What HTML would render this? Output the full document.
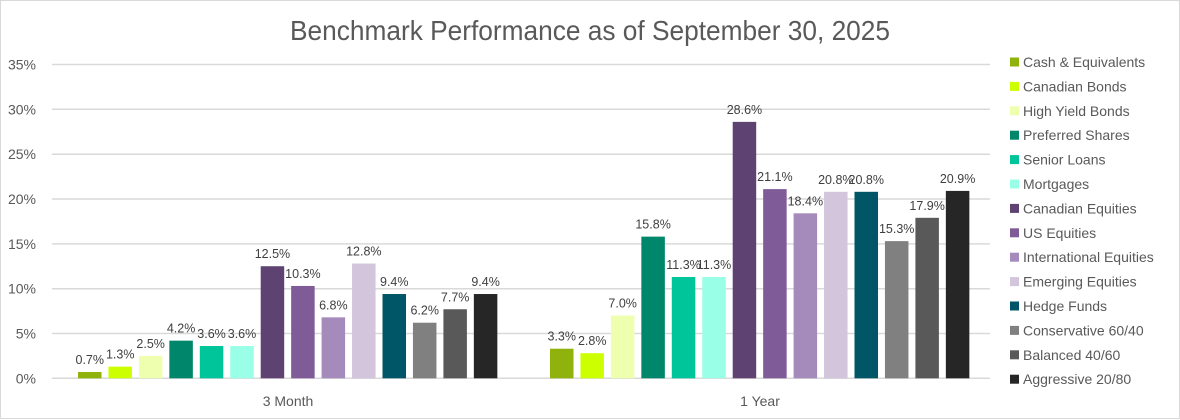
<!DOCTYPE html>
<html><head><meta charset="utf-8"><style>
html,body{margin:0;padding:0;background:#fff}
svg{display:block;font-family:"Liberation Sans",sans-serif}
</style></head><body>
<svg width="1180" height="420" viewBox="0 0 1180 420" xmlns="http://www.w3.org/2000/svg">
<rect x="0.5" y="0.5" width="1179" height="418" fill="#fff" stroke="#d9d9d9"/>
<text x="590" y="40" font-size="28" fill="#595959" text-anchor="middle" textLength="600" lengthAdjust="spacingAndGlyphs">Benchmark Performance as of September 30, 2025</text>
<g stroke="#d9d9d9" stroke-width="1.5">
<line x1="52" x2="990" y1="64.5" y2="64.5"/>
<line x1="52" x2="990" y1="109.3" y2="109.3"/>
<line x1="52" x2="990" y1="154.2" y2="154.2"/>
<line x1="52" x2="990" y1="199" y2="199"/>
<line x1="52" x2="990" y1="243.9" y2="243.9"/>
<line x1="52" x2="990" y1="288.7" y2="288.7"/>
<line x1="52" x2="990" y1="333.5" y2="333.5"/>
<line x1="52" x2="990" y1="378.3" y2="378.3"/>
</g>
<g font-size="14" fill="#595959" text-anchor="end">
<text x="36" y="69.5">35%</text><text x="36" y="114.3">30%</text><text x="36" y="159.2">25%</text><text x="36" y="204">20%</text><text x="36" y="248.9">15%</text><text x="36" y="293.7">10%</text><text x="36" y="338.5">5%</text><text x="36" y="383.3">0%</text>
</g>
<g font-size="14" fill="#595959" text-anchor="middle">
<text x="288" y="406">3 Month</text><text x="760" y="406">1 Year</text>
</g>
<g id="bars"></g>
<g id="legend" font-size="14" fill="#595959"></g>
<script>
var colors=["#8fb20c","#ccff00","#eeffb0","#00866a","#00c49a","#99ffe6","#5e4272","#7f5c98","#a58bbb","#d2c5dc","#005566","#808080","#595959","#262626"];
var names=["Cash & Equivalents","Canadian Bonds","High Yield Bonds","Preferred Shares","Senior Loans","Mortgages","Canadian Equities","US Equities","International Equities","Emerging Equities","Hedge Funds","Conservative 60/40","Balanced 40/60","Aggressive 20/80"];
var d1=[0.7,1.3,2.5,4.2,3.6,3.6,12.5,10.3,6.8,12.8,9.4,6.2,7.7,9.4];
var d2=[3.3,2.8,7.0,15.8,11.3,11.3,28.6,21.1,18.4,20.8,20.8,15.3,17.9,20.9];
var ns="http://www.w3.org/2000/svg",g=document.getElementById("bars"),lg=document.getElementById("legend");
function y(v){return 378.3-v*8.966;}
function add(p,tag,a,t){var e=document.createElementNS(ns,tag);for(var k in a)e.setAttribute(k,a[k]);if(t)e.textContent=t;p.appendChild(e);}
[[d1,78],[d2,550]].forEach(function(s){
 s[0].forEach(function(v,i){
  var x=s[1]+i*30.45;
  add(g,"rect",{x:x,y:y(v),width:23.5,height:378.3-y(v),fill:colors[i]});
  add(g,"text",{x:x+11.75,y:y(v)-8,"font-size":"12.5",fill:"#404040","text-anchor":"middle"},v.toFixed(1)+"%");
 });
});
names.forEach(function(n,i){
 var cy=62+i*24.4;
 add(lg,"rect",{x:1010,y:cy-4.5,width:9,height:9,fill:colors[i]});
 add(lg,"text",{x:1023,y:cy+5},n);
});
</script>
</svg>
</body></html>
